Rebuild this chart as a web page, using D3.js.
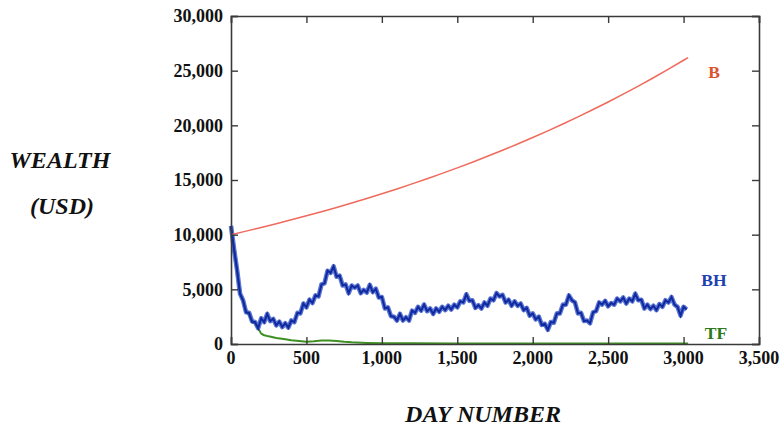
<!DOCTYPE html>
<html>
<head>
<meta charset="utf-8">
<script src="https://cdn.jsdelivr.net/npm/d3@7"></script>
<style>
  html, body { margin: 0; padding: 0; background: #fff; }
  svg text { font-family: "Liberation Serif", "Times New Roman", serif; font-weight: bold; }
</style>
</head>
<body>
<svg id="chart" width="784" height="431"></svg>
<script>
// ---- data ----
const xTicks = [0, 500, 1000, 1500, 2000, 2500, 3000, 3500];
const yTicks = [0, 5000, 10000, 15000, 20000, 25000, 30000];

const bDays = [0,100,200,300,400,500,600,700,800,900,1000,1100,1200,1300,1400,1500,1600,1700,1800,1900,2000,2100,2200,2300,2400,2500,2600,2700,2800,2900,3000,3030];
const bValues = [10000,10323,10656,11000,11356,11722,12101,12492,12895,13312,13742,14185,14644,15117,15605,16109,16629,17166,17721,18293,18884,19494,20124,20774,21445,22137,22853,23591,24353,25139,25951,26200];

const bhStep = 20;
const bhValues = [10800,8700,6800,4600,4000,2900,2850,2050,2000,1450,2350,2000,2750,2100,2300,1700,2050,1550,1900,1500,
  2150,2000,2850,2800,3700,3350,4050,3750,4450,4350,5450,5550,6700,6500,7100,6150,6250,5350,5450,4650,
  5350,5150,5350,4650,4950,4700,5400,4750,5050,4250,4300,3250,3350,2550,2500,2150,2750,2150,2450,2150,
  3050,2850,3400,3050,3600,3000,3250,2750,3250,2950,3400,3100,3500,3150,3600,3350,3900,3800,4550,3950,
  4000,3300,3550,3250,3800,3500,4150,4000,4650,4350,4500,3800,4050,3500,3900,3500,3700,3100,3300,2600,
  2800,2250,2500,1750,1850,1300,2000,1950,2800,2800,3600,3600,4450,4000,3800,2800,2850,2100,2150,1900,
  2900,3000,3800,3600,3950,3450,3750,3600,4150,3900,4250,3700,4150,3900,4600,4000,4050,3250,3600,3200,
  3500,3100,3650,3400,4000,3800,4300,3600,3400,2600,3400,3150];

const tfDays = [0,20,40,60,80,100,120,140,160,180,190,200,220,250,300,350,400,450,500,550,600,650,700,750,800,900,1000,1200,1500,2000,2500,3000,3030];
const tfValues = [10700,8700,6700,4600,3900,2900,2700,2000,1900,1400,1200,950,800,700,550,450,350,280,200,250,320,330,280,200,150,100,80,60,50,40,40,40,40];

const seriesLabels = ["B", "BH", "TF"];

// ---- layout ----
const svg = d3.select("#chart");
const L = 231, R = 759, T = 16, B = 344;
const x = d3.scaleLinear().domain([0, 3500]).range([L, R]);
const y = d3.scaleLinear().domain([0, 30000]).range([B, T]);
const fmt = d3.format(",");
const frameColor = "#3a3a3a";

// lines
const line = d3.line().x(d => x(d[0])).y(d => y(d[1]));
const bData = bDays.map((d, i) => [d, bValues[i]]);
const bhData = bhValues.map((v, i) => [i * bhStep, v]);
const tfData = tfDays.map((d, i) => [d, tfValues[i]]);

svg.append("path").datum(tfData).attr("d", line)
  .attr("fill", "none").attr("stroke", "#3f8f23").attr("stroke-width", 2).attr("stroke-linejoin", "round");
svg.append("path").datum(bhData).attr("d", line)
  .attr("fill", "none").attr("stroke", "#2448c4").attr("stroke-width", 4.6).attr("stroke-linejoin", "round").attr("opacity", 0.75);
svg.append("path").datum(bhData).attr("d", line)
  .attr("fill", "none").attr("stroke", "#10299e").attr("stroke-width", 2).attr("stroke-linejoin", "miter");
svg.append("path").datum(bData).attr("d", line)
  .attr("fill", "none").attr("stroke", "#f06a5c").attr("stroke-width", 1.5);

// axes (ticks inward)
const axL = svg.append("g").attr("transform", `translate(${L},0)`)
  .call(d3.axisRight(y).tickValues(yTicks).tickSize(7).tickFormat(""));
const axR = svg.append("g").attr("transform", `translate(${R},0)`)
  .call(d3.axisLeft(y).tickValues(yTicks).tickSize(7).tickFormat(""));
const axB = svg.append("g").attr("transform", `translate(0,${B})`)
  .call(d3.axisTop(x).tickValues(xTicks).tickSize(7).tickFormat(""));
const axT = svg.append("g").attr("transform", `translate(0,${T})`)
  .call(d3.axisBottom(x).tickValues(xTicks).tickSize(7).tickFormat(""));
[axL, axR, axB, axT].forEach(g => {
  g.selectAll(".domain").attr("stroke", frameColor).attr("stroke-width", 1.6);
  g.selectAll(".tick line").attr("stroke", frameColor).attr("stroke-width", 1.4);
});

// tick labels
svg.append("g").selectAll("text").data(yTicks).join("text")
  .attr("x", L - 8).attr("y", d => y(d)).attr("dy", "0.35em")
  .attr("text-anchor", "end").attr("font-size", 18).attr("fill", "#111")
  .text(d => fmt(d));
svg.append("g").selectAll("text").data(xTicks).join("text")
  .attr("x", d => x(d)).attr("y", B + 20)
  .attr("text-anchor", "middle").attr("font-size", 18).attr("fill", "#111")
  .text(d => fmt(d));

// axis titles
svg.append("text").attr("x", 60).attr("y", 168).attr("text-anchor", "middle")
  .attr("font-size", 24).attr("font-style", "italic").attr("fill", "#111").text("WEALTH");
svg.append("text").attr("x", 62).attr("y", 214).attr("text-anchor", "middle")
  .attr("font-size", 24).attr("font-style", "italic").attr("fill", "#111").text("(USD)");
svg.append("text").attr("x", 483).attr("y", 422).attr("text-anchor", "middle")
  .attr("font-size", 24).attr("font-style", "italic").attr("fill", "#111").text("DAY NUMBER");

// series labels
const labelColors = ["#d9552e", "#1f40b0", "#2b7a1c"];
const labelPos = [[714, 78], [714, 286], [716, 339]];
seriesLabels.forEach((s, i) => {
  svg.append("text").attr("x", labelPos[i][0]).attr("y", labelPos[i][1])
    .attr("text-anchor", "middle").attr("font-size", 17.5).attr("fill", labelColors[i]).text(s);
});
</script>
</body>
</html>
